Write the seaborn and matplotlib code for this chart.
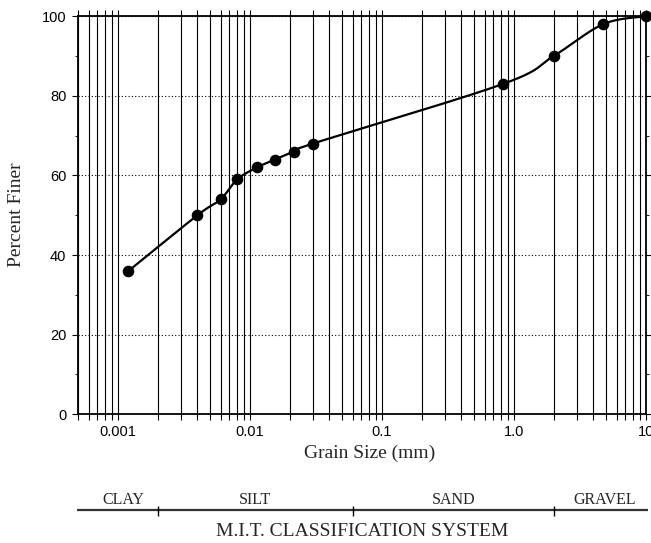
import numpy as np
import pandas as pd
import matplotlib
matplotlib.use("Agg")
import matplotlib.pyplot as plt
import seaborn as sns
from matplotlib.ticker import FixedLocator, FixedFormatter, NullFormatter, LogLocator

# Grain-size distribution (hydrometer + sieve)
grain_size_mm = [0.0012, 0.004, 0.006, 0.008, 0.0113, 0.0155, 0.0216, 0.030, 0.83, 2.0, 4.75, 10.0]
percent_finer = [36, 50, 54, 59, 62, 64, 66, 68, 83, 90, 98, 100]

x_tick_values = [0.001, 0.01, 0.1, 1.0, 10.0]
x_tick_labels = ["0.001", "0.01", "0.1", "1.0", "10"]
y_tick_values = [0, 20, 40, 60, 80, 100]
y_minor_values = [10, 30, 50, 70, 90]

# M.I.T. classification bands
soil_classes = ["CLAY", "SILT", "SAND", "GRAVEL"]
class_limits_mm = [0.0005, 0.002, 0.06, 2.0, 10.0]
class_label_mm = [0.00109, 0.0110, 0.348, 4.88]

W, H = 651, 543
AX_L, AX_R, AX_T, AX_B = 78.2, 645.9, 16.2, 414.3


def smooth_curve(xk, yk, n=60):
    """Uniform Catmull-Rom spline through the points (log-x space)."""
    p = np.column_stack([np.asarray(xk, float), np.asarray(yk, float)])
    p = np.vstack([p[0], p, p[-1]])
    out = []
    for k in range(1, len(p) - 2):
        p0, p1, p2, p3 = p[k - 1], p[k], p[k + 1], p[k + 2]
        m1 = (p2 - p0) / 2
        m2 = (p3 - p1) / 2
        t = np.linspace(0, 1, n, endpoint=(k == len(p) - 3))[:, None]
        h00 = 2 * t**3 - 3 * t**2 + 1
        h10 = t**3 - 2 * t**2 + t
        h01 = -2 * t**3 + 3 * t**2
        h11 = t**3 - t**2
        out.append(h00 * p1 + h10 * m1 + h01 * p2 + h11 * m2)
    out = np.vstack(out)
    return out[:, 0], out[:, 1]


sns.set_theme(style="ticks")
plt.rcParams["font.family"] = ["Liberation Sans", "DejaVu Sans"]
serif = ["Liberation Serif", "DejaVu Serif"]

points = pd.DataFrame({"size": grain_size_mm, "finer": percent_finer})
lx, ly = smooth_curve(np.log10(points["size"]), points["finer"])
curve = pd.DataFrame({"size": 10**lx, "finer": ly})

fig = plt.figure(figsize=(W / 100, H / 100), dpi=100)
ax = fig.add_axes([AX_L / W, 1 - AX_B / H, (AX_R - AX_L) / W, (AX_B - AX_T) / H])
ax.set_xscale("log")

sns.lineplot(data=curve, x="size", y="finer", sort=False, estimator=None,
             color="black", linewidth=1.6, ax=ax, zorder=4)
sns.scatterplot(data=points, x="size", y="finer", color="black", s=70,
                linewidth=0, ax=ax, zorder=5, clip_on=False)

ax.set_xlim(class_limits_mm[0], class_limits_mm[-1])
ax.set_ylim(0, 100)

ax.xaxis.set_major_locator(FixedLocator(x_tick_values))
ax.xaxis.set_major_formatter(FixedFormatter(x_tick_labels))
ax.xaxis.set_minor_locator(LogLocator(base=10, subs=np.arange(2, 10), numticks=20))
ax.xaxis.set_minor_formatter(NullFormatter())
ax.yaxis.set_major_locator(FixedLocator(y_tick_values))
ax.yaxis.set_minor_locator(FixedLocator(y_minor_values))

ax.grid(True, axis="x", which="both", color="black", linewidth=0.8, linestyle="-")
ax.grid(True, axis="y", which="major", color="black", linewidth=0.8, linestyle=(0, (1, 2)))
ax.set_axisbelow(True)

for side in ["left", "right", "top", "bottom"]:
    ax.spines[side].set_visible(True)
    ax.spines[side].set_color("black")
    ax.spines[side].set_linewidth(1.3)

ax.tick_params(axis="x", which="both", direction="out", length=4, width=0.8,
               top=True, bottom=True, labelsize=10.5, pad=3.5, colors="black")
ax.tick_params(axis="y", which="major", direction="out", length=4.5, width=0.8,
               left=True, right=True, labelsize=10.5, pad=4, colors="black")
ax.tick_params(axis="y", which="minor", direction="out", length=2.5, width=0.8,
               left=True, right=True)

ax.set_xlabel("Grain Size (mm)", family=serif, fontsize=14, va="center")
ax.xaxis.set_label_coords((370 - AX_L) / (AX_R - AX_L), (AX_B - 453) / (AX_B - AX_T))
ax.set_ylabel("Percent Finer", family=serif, fontsize=14, va="center")
ax.yaxis.set_label_coords((17 - AX_L) / (AX_R - AX_L), (AX_B - 215) / (AX_B - AX_T))

# Classification bar below the chart; its y units are figure pixels from the top
cls = fig.add_axes([AX_L / W, 0, (AX_R - AX_L) / W, 60 / H])
cls.set_xscale("log")
cls.set_xlim(class_limits_mm[0], class_limits_mm[-1])
cls.set_ylim(H, H - 60)
cls.axis("off")
cls.hlines(510, class_limits_mm[0] * 0.985, class_limits_mm[-1] * 1.035, color="#333333",
           linewidth=1.6, clip_on=False)
cls.vlines(class_limits_mm[1:-1], 505.5, 515.5, color="black", linewidth=1.0)
for name, xpos in zip(soil_classes, class_label_mm):
    cls.text(xpos, 500, name, family=serif, fontsize=11.5, ha="center", va="center")
cls.text(0.5, (H - 531) / 60, "M.I.T. CLASSIFICATION SYSTEM", family=serif, fontsize=14,
         ha="center", va="center", transform=cls.transAxes)

fig.savefig("out.png", dpi=100, facecolor="white")
